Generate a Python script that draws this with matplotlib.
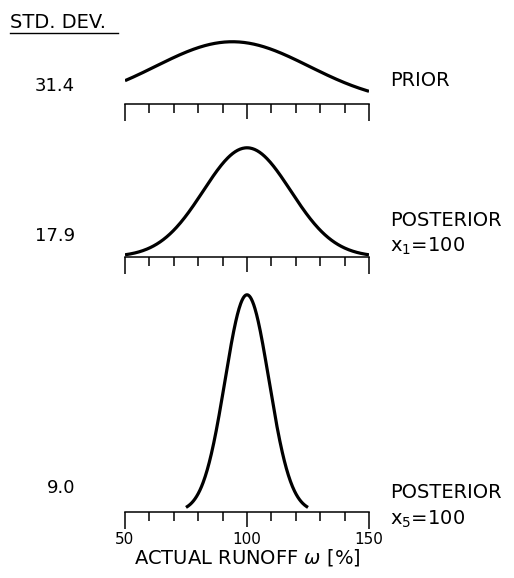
import numpy as np
import matplotlib
matplotlib.use("Agg")
import matplotlib.pyplot as plt

plt.rcParams['font.family'] = ['DejaVu Sans']
plt.rcParams['mathtext.fontset'] = 'dejavusans'

# ---------------------------------------------------------------- data
std_devs = [31.4, 17.9, 9.0]
means = [94.0, 100.0, 100.0]
x_from = [50, 50, 75]
x_to = [150, 150, 125]
std_labels = ['31.4', '17.9', '9.0']
case_titles = ['PRIOR', 'POSTERIOR', 'POSTERIOR']
case_obs = ['', 'x$_1$=100', 'x$_5$=100']
tick_values = list(range(50, 151, 10))
tick_labels = ['50', '', '', '', '', '100', '', '', '', '', '150']

# ---------------------------------------------------------------- layout (pixels, from top)
W, H = 514, 578
px_per_density = 4900.0
axis_y = [104, 257, 512]
panel_h = [72, 120, 225]
left_px, width_px = 125, 244
std_y = [86, 236, 488]
title_y = [81, 221, 493]
obs_y = [0, 246, 519]

fig = plt.figure(figsize=(W / 100, H / 100), dpi=100)

for i in range(3):
    bottom = 1 - axis_y[i] / H
    ax = fig.add_axes([left_px / W, bottom, width_px / W, panel_h[i] / H])
    x = np.linspace(x_from[i], x_to[i], 300)
    pdf = np.exp(-0.5 * ((x - means[i]) / std_devs[i]) ** 2) / (std_devs[i] * np.sqrt(2 * np.pi))
    ax.plot(x, pdf, 'k-', linewidth=2.3, solid_capstyle='butt')
    ax.set_xlim(50, 150)
    ax.set_ylim(0, panel_h[i] / px_per_density)
    for s in ['top', 'left', 'right']:
        ax.spines[s].set_visible(False)
    ax.spines['bottom'].set_linewidth(1.1)
    ax.set_yticks([])
    ax.set_xticks(tick_values)
    if i == 2:
        ax.set_xticklabels(tick_labels, fontsize=11)
        ax.set_xlabel("ACTUAL RUNOFF $\\omega$ [%]", fontsize=14, labelpad=0)
    else:
        ax.set_xticklabels([])
    ax.tick_params(axis='x', direction='out', length=6.5, width=1.1, pad=8)
    for v, t in zip(tick_values, ax.xaxis.get_major_ticks()):
        if v in (50, 150):
            t.tick1line.set_markersize(12)
        elif v == 100:
            t.tick1line.set_markersize(10.5)
    ax.patch.set_visible(False)

    fig.text(75 / W, 1 - std_y[i] / H, std_labels[i], fontsize=13,
             ha='right', va='center')
    fig.text(390 / W, 1 - title_y[i] / H, case_titles[i], fontsize=14,
             ha='left', va='center')
    if case_obs[i]:
        fig.text(390 / W, 1 - obs_y[i] / H, case_obs[i], fontsize=14,
                 ha='left', va='center')

fig.text(10 / W, 1 - 22 / H, 'STD. DEV.', fontsize=14, ha='left', va='center')
fig.add_artist(plt.Line2D([10 / W, 118 / W], [1 - 33 / H, 1 - 33 / H], color='k', linewidth=1.0))

fig.savefig('out.png', dpi=100)
